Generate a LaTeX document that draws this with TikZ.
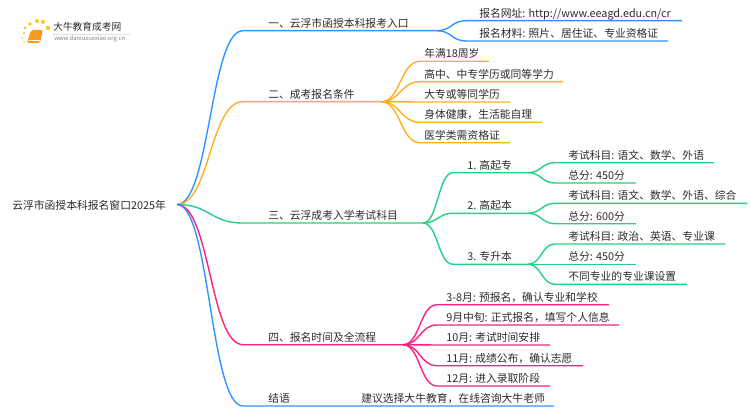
\documentclass[tikz,border=0pt]{standalone}
\usepackage{fontspec}
\setmainfont{Noto Sans CJK SC}
\usetikzlibrary{calc}
\definecolor{linkblue}{HTML}{2F95FF}
\definecolor{linkorange}{HTML}{FFB020}
\definecolor{linkgreen}{HTML}{25CF85}
\definecolor{linkpink}{HTML}{FF2080}
\definecolor{booknow}{HTML}{F79A1E}
\definecolor{inktext}{HTML}{2B2B2B}
\newcommand{\wcomma}{\char"FF0C\relax}
\tikzset{
  lbl/.style={anchor=base west,inner sep=0pt,font=\fontsize{8.1pt}{10pt}\selectfont,text=inktext},
  wire/.style={line width=1.05pt},
  link/.style={to path={let \p1=(\tikztostart),\p2=(\tikztotarget) in
    .. controls ({.5*(\x1+\x2)},\y1) and ({.5*(\x1+\x2)},\y2) .. (\tikztotarget)}},
  sundot/.style={fill=linkorange!70!yellow,draw=none}
}
\begin{document}
\begin{tikzpicture}[x=.75pt,y=-.75pt]
\useasboundingbox (0,0) rectangle (750,410);
% Logo
\foreach \px/\py/\pr in {24/33/1.2,25/28/1.5,30/24/1.8,37/21/2,43/22/2,48/28/2.2,22/38/1,24/42/.8}
  \fill[sundot] (\px,\py) circle (\pr);
\fill[booknow,rounded corners=1.5pt] (31,30) -- (43,30) -- (40,43) -- (27,43) -- cycle;
\draw[white,line width=.5pt] (29,40.5) -- (39.5,40.5);
\node[lbl,font=\fontsize{7.3pt}{9pt}\selectfont] (logotext) at (53,31) {大牛教育成考网};
\node[lbl,font=\fontsize{4.4pt}{5pt}\selectfont,text=gray] (logourl) at (54,41) {www.daniuxuexiao.org.cn};
\draw[gray!25,line width=.4pt] (53,34) -- (130,34);
% Root of the map
\node[lbl] (root) at (12,209) {云浮市函授本科报名窗口2025年};
\coordinate (hub) at (177,204.5);
% First level: name/colour/y/end of line/text
\foreach \nm/\col/\yl/\xe/\txt in {
  one/linkblue/30.7/437/{一、云浮市函授本科报考入口},
  two/linkorange/101.7/381/{二、成考报名条件},
  three/linkgreen/223/423/{三、云浮成考入学考试科目},
  four/linkpink/344.7/403/{四、报名时间及全流程},
  five/linkblue/406/554/{结语}}{
  \node[lbl] (\nm) at (268,\yl-3.4) {\txt};
  \coordinate (\nm s) at (243,\yl);
  \coordinate (\nm e) at (\xe,\yl);
  \draw[wire,\col] (hub) to[link] (\nm s) -- (\nm e);
}
\node[lbl] (fivetext) at (361,402.6) {建议选择大牛教育\wcomma 在线咨询大牛老师};
% Leaves of branch one
\foreach \nm/\yl/\xe/\txt in {
  oa/20.7/682/{报名网址: http://www.eeagd.edu.cn/cr},
  ob/41/668/{报名材料: 照片、居住证、专业资格证}}{
  \node[lbl] (\nm) at (479,\yl-3.4) {\txt};
  \coordinate (\nm s) at (466,\yl);
  \coordinate (\nm e) at (\xe,\yl);
  \draw[wire,linkblue] (onee) to[link] (\nm s) -- (\nm e);
}
% Leaves of branch two
\foreach \nm/\yl/\xe/\txt in {
  ta/61.3/489/{年满18周岁},
  tb/81.7/563/{高中、中专学历或同等学力},
  tc/102/510/{大专或等同学历},
  td/122.3/542/{身体健康\wcomma 生活能自理},
  te/142.7/510/{医学类需资格证}}{
  \node[lbl] (\nm) at (424,\yl-3.4) {\txt};
  \coordinate (\nm s) at (420,\yl);
  \coordinate (\nm e) at (\xe,\yl);
  \draw[wire,linkorange] (twoe) to[link] (\nm s) -- (\nm e);
}
% Branch three has one more level
\foreach \nm/\yl/\txt in {
  ha/172.7/{1. 高起专},
  hb/213.3/{2. 高起本},
  hc/264.3/{3. 专升本}}{
  \node[lbl] (\nm) at (467,\yl-3.4) {\txt};
  \coordinate (\nm s) at (453,\yl);
  \coordinate (\nm e) at (528,\yl);
  \draw[wire,linkgreen] (threee) to[link] (\nm s) -- (\nm e);
}
\foreach \up/\nm/\yl/\xe/\txt in {
  ha/haa/162.7/714/{考试科目: 语文、数学、外语},
  ha/hab/183/636/{总分: 450分},
  hb/hba/203.3/747/{考试科目: 语文、数学、外语、综合},
  hb/hbb/223.7/636/{总分: 600分},
  hc/hca/244/725/{考试科目: 政治、英语、专业课},
  hc/hcb/264.3/636/{总分: 450分},
  hc/hcc/284.3/687/{不同专业的专业课设置}}{
  \node[lbl] (\nm) at (568,\yl-3.4) {\txt};
  \coordinate (\nm s) at (555,\yl);
  \coordinate (\nm e) at (\xe,\yl);
  \draw[wire,linkgreen] (\up e) to[link] (\nm s) -- (\nm e);
}
% Leaves of branch four
\foreach \nm/\yl/\xe/\txt in {
  fa/304.7/609/{3-8月: 预报名\wcomma 确认专业和学校},
  fb/325/619/{9月中旬: 正式报名\wcomma 填写个人信息},
  fc/345/550/{10月: 考试时间安排},
  fd/365.7/583/{11月: 成绩公布\wcomma 确认志愿},
  fe/386/550/{12月: 进入录取阶段}}{
  \node[lbl] (\nm) at (446,\yl-3.4) {\txt};
  \coordinate (\nm s) at (437,\yl);
  \coordinate (\nm e) at (\xe,\yl);
  \draw[wire,linkpink] (foure) to[link] (\nm s) -- (\nm e);
}
\end{tikzpicture}
\end{document}
